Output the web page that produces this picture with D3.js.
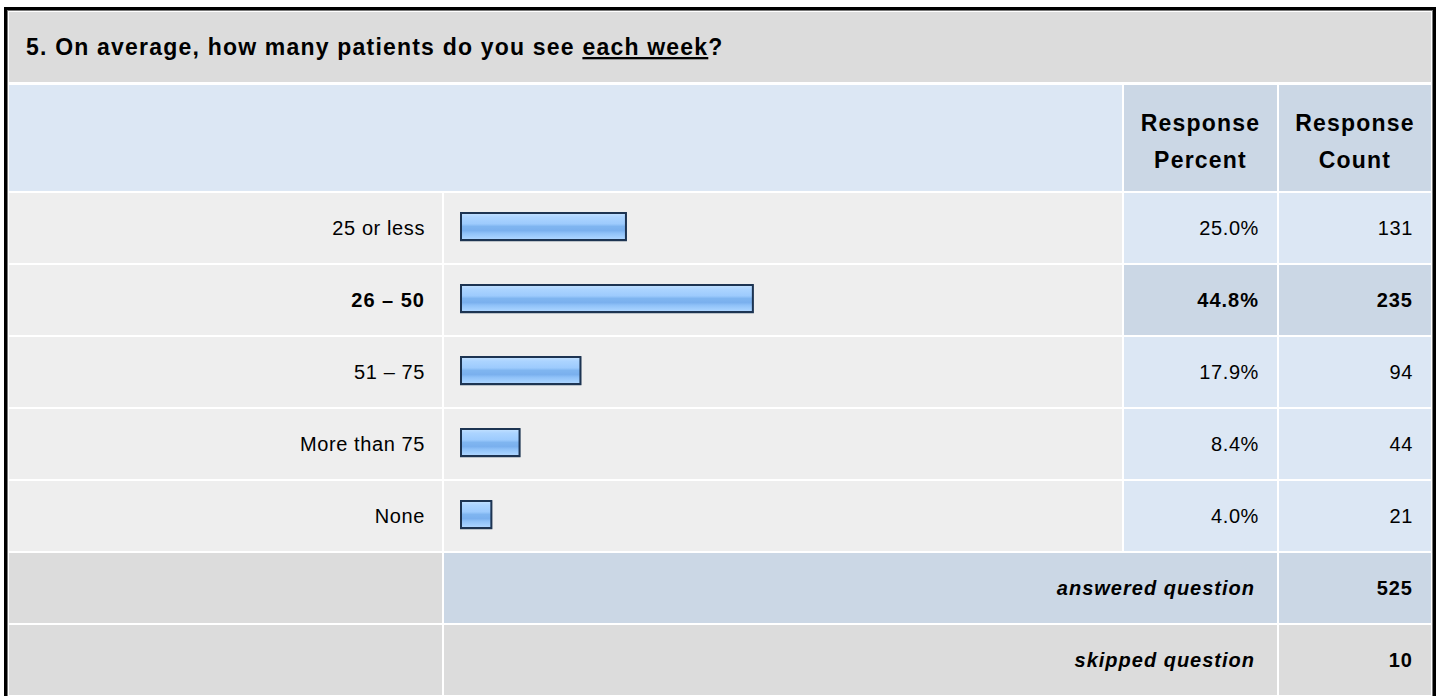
<!DOCTYPE html>
<html>
<head>
<meta charset="utf-8">
<script src="https://cdn.jsdelivr.net/npm/d3@7"></script>
<style>
  html, body { margin: 0; padding: 0; background: #ffffff; }
  svg { display: block; font-family: "Liberation Sans", Arial, sans-serif; }
</style>
</head>
<body>
<div id="chart"></div>
<script>
// Survey data
const questionNumber = "5.";
const questionStart = "On average, how many patients do you see ";
const questionUnderlined = "each week";
const questionEnd = "?";
const headerLabels = [["Response", "Percent"], ["Response", "Count"]];
const answerLabels = ["25 or less", "26 \u2013 50", "51 \u2013 75", "More than 75", "None"];
const responsePercent = [25.0, 44.8, 17.9, 8.4, 4.0];
const responseCount = [131, 235, 94, 44, 21];
const summaryLabels = ["answered question", "skipped question"];
const summaryCounts = [525, 10];

// Layout
const width = 1440;
const height = 696;
const colLabel = [9, 442];
const colBar = [444, 1122];
const colPct = [1124, 1277];
const colCount = [1279, 1431];
const titleRow = [12, 82];
const headerRow = [85, 191];
const firstRowTop = 193;
const rowStep = 72;
const rowH = 70;

const cGray = "#dcdcdc";
const cLight = "#eeeeee";
const cBlue = "#dce7f4";
const cBlueDark = "#cbd7e5";

const svg = d3.select("#chart")
    .append("svg")
    .attr("width", width)
    .attr("height", height);

// Gradient for the bars
const grad = svg.append("defs").append("linearGradient")
    .attr("id", "barFill")
    .attr("x1", 0).attr("y1", 0).attr("x2", 0).attr("y2", 1);
[
    [0, "#c4e2ff"], [0.15, "#acd4ff"], [0.4, "#9dcbfd"], [0.5, "#7fb5f0"],
    [0.65, "#7ab0ee"], [0.75, "#8fc1f8"], [0.9, "#a3cffe"], [1, "#b4d8ff"]
].forEach(s => grad.append("stop").attr("offset", s[0]).attr("stop-color", s[1]));

function cell(x0, x1, y0, y1, fill) {
    svg.append("rect")
        .attr("x", x0).attr("y", y0)
        .attr("width", x1 - x0).attr("height", y1 - y0)
        .attr("fill", fill);
}

function label(x, y, txt, anchor, weight, style) {
    return svg.append("text")
        .attr("x", x).attr("y", y)
        .attr("text-anchor", anchor)
        .attr("fill", "#000")
        .style("font-size", "20px")
        .style("font-weight", weight || "normal")
        .style("font-style", style || "normal")
        .style("letter-spacing", weight === "bold" ? "1px" : "0.6px")
        .text(txt);
}

// Title row
cell(colLabel[0], colCount[1], titleRow[0], titleRow[1], cGray);
const title = svg.append("text")
    .attr("x", 26)
    .attr("y", (titleRow[0] + titleRow[1]) / 2 + 8)
    .style("font-size", "23px")
    .style("font-weight", "bold")
    .style("letter-spacing", "1.2px");
title.append("tspan").text(questionNumber + " " + questionStart);
title.append("tspan").style("text-decoration", "underline").text(questionUnderlined);
title.append("tspan").text(questionEnd);

// Header row
cell(colLabel[0], colBar[1], headerRow[0], headerRow[1], cBlue);
[colPct, colCount].forEach((col, i) => {
    cell(col[0], col[1], headerRow[0], headerRow[1], cBlueDark);
    const cx = (col[0] + col[1]) / 2;
    const cy = (headerRow[0] + headerRow[1]) / 2;
    label(cx, cy - 7, headerLabels[i][0], "middle", "bold")
        .style("font-size", "23px").style("letter-spacing", "1.2px");
    label(cx, cy + 30, headerLabels[i][1], "middle", "bold")
        .style("font-size", "23px").style("letter-spacing", "1.2px");
});

// Bar scale
const x = d3.scaleLinear().domain([0, 100]).range([0, 641]);
const maxIdx = responsePercent.indexOf(d3.max(responsePercent));

// Answer rows
answerLabels.forEach((name, i) => {
    const y0 = firstRowTop + i * rowStep;
    const y1 = y0 + rowH;
    const cy = (y0 + y1) / 2 + 7;
    const isMax = i === maxIdx;
    const w = isMax ? "bold" : "normal";

    cell(colLabel[0], colLabel[1], y0, y1, cLight);
    cell(colBar[0], colBar[1], y0, y1, cLight);
    cell(colPct[0], colPct[1], y0, y1, isMax ? cBlueDark : cBlue);
    cell(colCount[0], colCount[1], y0, y1, isMax ? cBlueDark : cBlue);

    label(colLabel[1] - 17, cy, name, "end", w);

    // shadow + bar
    svg.append("rect")
        .attr("x", colBar[0] + 17)
        .attr("y", y0 + 21)
        .attr("width", x(responsePercent[i]) + 4.7)
        .attr("height", 27)
        .attr("fill", "none")
        .attr("stroke", "#9aa3ad")
        .attr("stroke-opacity", 0.6)
        .attr("stroke-width", 2);
    svg.append("rect")
        .attr("x", colBar[0] + 17)
        .attr("y", y0 + 20)
        .attr("width", x(responsePercent[i]) + 4.7)
        .attr("height", 27)
        .attr("fill", "url(#barFill)")
        .attr("stroke", "#1d3452")
        .attr("stroke-width", 2);

    label(colPct[1] - 18, cy, d3.format(".1f")(responsePercent[i]) + "%", "end", w);
    label(colCount[1] - 18, cy, responseCount[i], "end", w);
});

// Summary rows
summaryLabels.forEach((name, j) => {
    const y0 = firstRowTop + (answerLabels.length + j) * rowStep;
    const y1 = Math.min(y0 + rowH, height);
    const cy = (y0 + y0 + rowH) / 2 + 7;
    const fill = j === 0 ? cBlueDark : cGray;
    cell(colLabel[0], colLabel[1], y0, y1, cGray);
    cell(colBar[0], colPct[1], y0, y1, fill);
    cell(colCount[0], colCount[1], y0, y1, fill);
    label(colPct[1] - 22, cy, name, "end", "bold", "italic");
    label(colCount[1] - 18, cy, summaryCounts[j], "end", "bold");
});

// Outer frame
svg.append("rect")
    .attr("x", 5.5).attr("y", 8.5)
    .attr("width", 1429).attr("height", 700)
    .attr("fill", "none")
    .attr("stroke", "#000")
    .attr("stroke-width", 3);
svg.append("rect")
    .attr("x", 7.5).attr("y", 10.5)
    .attr("width", 1425).attr("height", 700)
    .attr("fill", "none")
    .attr("stroke", "#777")
    .attr("stroke-width", 1);
</script>
</body>
</html>
